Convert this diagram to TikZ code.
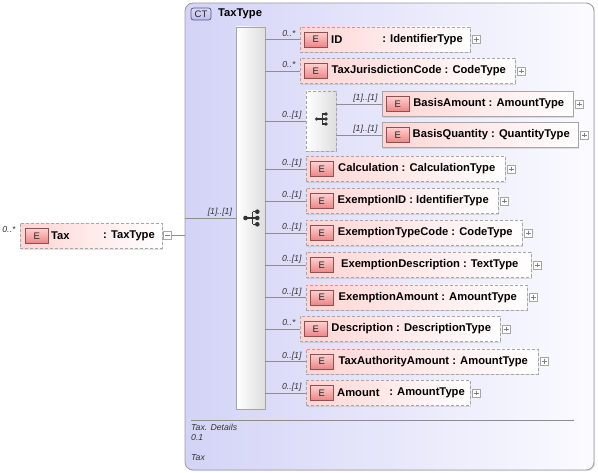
\documentclass[tikz,border=0pt]{standalone}
\usepackage{fontspec}
\setmainfont{Liberation Sans}
\usetikzlibrary{shadows}
\definecolor{ctleft}{HTML}{D3D3F7}
\definecolor{ctright}{HTML}{FBFBFF}
\definecolor{ctborder}{HTML}{9C9C9C}
\definecolor{ctbadgefill}{HTML}{BDBDF0}
\definecolor{ctbadgeborder}{HTML}{55558E}
\definecolor{elpink}{HTML}{FFD4D4}
\definecolor{elborder}{HTML}{A6A6A6}
\definecolor{ebadgetop}{HTML}{FFD0D0}
\definecolor{ebadgebot}{HTML}{EC8585}
\definecolor{ebadgeborder}{HTML}{8E5050}
\definecolor{linegray}{HTML}{8E8E8E}
\definecolor{cardtext}{HTML}{333333}
\definecolor{bargray}{HTML}{A4A4A4}
\tikzset{
  x=1pt, y=-1pt,
  ctbox/.style={draw=ctborder, line width=0.8pt, left color=ctleft, right color=ctright,
    rounded corners=8pt, inner sep=0pt,
    drop shadow={shadow xshift=1.2pt, shadow yshift=-1.2pt, opacity=0.2}},
  ctbadge/.style={draw=ctbadgeborder, line width=0.7pt, top color=ctbadgefill!55!white, bottom color=ctbadgefill,
    rounded corners=2.5pt, minimum width=20pt, minimum height=12pt, inner sep=0pt,
    font=\fontsize{9.5}{10}\selectfont, text=black!85},
  elem/.style={draw=elborder, line width=0.7pt, left color=elpink, right color=white,
    minimum height=25pt, inner sep=0pt,
    drop shadow={shadow xshift=1.2pt, shadow yshift=-1.2pt, opacity=0.22}},
  opt/.style={dash pattern=on 3pt off 2pt},
  badge/.style={draw=ebadgeborder, line width=0.6pt, top color=ebadgetop, bottom color=ebadgebot,
    minimum width=23pt, minimum height=15pt, inner sep=0pt,
    font=\fontsize{9.5}{10}\selectfont, text=black!85},
  eltext/.style={font=\fontsize{11.2}{12}\selectfont\bfseries, inner sep=0pt, text=black},
  card/.style={font=\fontsize{8.7}{9}\selectfont\itshape, text=cardtext, inner sep=0pt, anchor=base east},
  footer/.style={font=\fontsize{8.7}{9}\selectfont\itshape, text=black!80, inner sep=0pt, anchor=west},
  conn/.style={draw=linegray, line width=0.7pt},
  plusbox/.style={draw=elborder, fill=white, minimum width=8pt, minimum height=8pt, inner sep=0pt, line width=0.5pt},
  plusline/.style={draw=black!50, line width=0.5pt},
  seqbar/.style={draw=bargray, line width=0.7pt, left color=white, right color=black!13, inner sep=0pt,
    drop shadow={shadow xshift=1.2pt, shadow yshift=-1.2pt, opacity=0.22}},
  dotstyle/.style={fill=black!80, draw=none},
  iconline/.style={draw=black!80, line width=1.1pt}
}
% element box: #1 id, #2 left, #3 right, #4 y, #5 text, #6 extra style, #7 cardinality
\newcommand{\xelem}[7]{%
  \node[elem,#6, minimum width={(#3-(#2))*1pt}] (#1) at ({(#2+#3)/2},#4) {};
  \node[badge, anchor=west] (#1-b) at ({#2+4},#4) {E};
  \node[eltext] (#1-t) at ({(#2+30+#3-7.5)/2},#4) {#5};
  \xplus{#1}{#3}{#4}
  \node[card] (#1-c) at ([xshift=-4pt,yshift=3pt]#1.west) {#7};
}
\newcommand{\xplus}[3]{%
  \node[plusbox, anchor=west] (#1-p) at ({#2+2},#3) {};
  \draw[plusline] ([yshift=-2pt]#1-p.north) -- ([yshift=2pt]#1-p.south);
  \draw[plusline] ([xshift=2pt]#1-p.west) -- ([xshift=-2pt]#1-p.east);
}
% sequence icon: #1 prefix, #2 cx, #3 cy, #4 size
\newcommand{\xseqicon}[4]{%
  \coordinate (#1-l) at ({#2-5.5*#4},#3);
  \coordinate (#1-v) at ({#2+1.8*#4},#3);
  \coordinate (#1-vt) at ({#2+1.8*#4},{#3-6.3*#4});
  \coordinate (#1-vb) at ({#2+1.8*#4},{#3+6.3*#4});
  \coordinate (#1-d1) at ({#2+6.3*#4},{#3-6.3*#4});
  \coordinate (#1-d2) at ({#2+6.3*#4},#3);
  \coordinate (#1-d3) at ({#2+6.3*#4},{#3+6.3*#4});
  \draw[iconline] (#1-l) -- (#1-d2);
  \draw[iconline] (#1-vt) -- (#1-vb);
  \draw[iconline] (#1-vt) -- (#1-d1);
  \draw[iconline] (#1-vb) -- (#1-d3);
  \fill[dotstyle] (#1-l) circle ({2.3*#4});
  \fill[dotstyle] (#1-d1) circle ({2.3*#4});
  \fill[dotstyle] (#1-d2) circle ({2.3*#4});
  \fill[dotstyle] (#1-d3) circle ({2.3*#4});
}
\begin{document}
\begin{tikzpicture}
\useasboundingbox (0,0) rectangle (598,473);
\fill[white] (0,0) rectangle (598,473);

% complex type container
\node[ctbox, minimum width=409pt, minimum height=467pt] (ct) at (389.5,236.5) {};
\node[ctbadge] (ctb) at (201,14) {CT};
\node[eltext, anchor=west] (cttitle) at (218,14) {TaxType};
\draw[draw=black!45, line width=0.7pt] (191,420) -- (574,420);
\node[footer] (f1) at (191,427.5) {Tax. Details};
\node[footer] (f2) at (191,437.5) {0.1};
\node[footer] (f3) at (191,458) {Tax};

% main sequence
\node[seqbar, minimum width=29pt, minimum height=382pt] (seq) at (250.5,218) {};
\xseqicon{mi}{251}{218}{1}

% Tax element
\node[elem, opt, minimum width=142pt] (tax) at (91,236) {};
\node[badge, anchor=west] (tax-b) at (25,236) {E};
\node[eltext, anchor=west] (tax-n) at (51,236) {Tax};
\node[eltext, anchor=east] (tax-ty) at (155,236) {: TaxType};
\node[plusbox, anchor=west] (tax-m) at (163,235.5) {};
\draw[plusline] ([xshift=2pt]tax-m.west) -- ([xshift=-2pt]tax-m.east);
\node[card] (tax-c) at ([xshift=-4pt,yshift=3pt]tax.west) {0..*};
\draw[conn] (tax-m.east) -- (tax-m.east -| ct.west);
\draw[conn] (ct.west |- seq.west) -- (seq.west);
\node[card] (seq-c) at ([xshift=-3.5pt,yshift=3pt]seq.west) {[1]..[1]};

% ID element (special spacing)
\node[elem, opt, minimum width=170pt] (e1) at (385,39.5) {};
\node[badge, anchor=west] (e1-b) at (304,39.5) {E};
\node[eltext, anchor=west] (e1-n) at (331,39.5) {ID};
\node[eltext, anchor=east] (e1-ty) at (463,39.5) {: IdentifierType};
\xplus{e1}{470}{39.5}
\node[card] (e1-c) at ([xshift=-4pt,yshift=3pt]e1.west) {0..*};

\xelem{e2}{300}{515}{71}{TaxJurisdictionCode : CodeType}{opt}{0..*}

% inner sequence
\node[seqbar, opt, minimum width=30pt, minimum height=60pt] (iseq) at (321,121) {};
\xseqicon{ii}{321}{119}{0.8}
\node[card] (iseq-c) at ([xshift=-4pt,yshift=3pt]iseq.west) {0..[1]};
\xelem{ba}{382}{573}{104}{BasisAmount : AmountType}{}{[1]..[1]}
\xelem{bq}{382}{578}{135}{BasisQuantity : QuantityType}{}{[1]..[1]}
\draw[conn] (iseq.east |- ba.west) -- (ba.west);
\draw[conn] (iseq.east |- bq.west) -- (bq.west);

\xelem{calc}{306}{505}{169}{Calculation : CalculationType}{opt}{0..[1]}
\xelem{exid}{306}{498}{201}{ExemptionID : IdentifierType}{opt}{0..[1]}
\xelem{etc}{306}{522}{233}{ExemptionTypeCode : CodeType}{opt}{0..[1]}
\xelem{ed}{306}{531}{265}{ExemptionDescription : TextType}{opt}{0..[1]}
\xelem{ea}{306}{527}{297.5}{ExemptionAmount : AmountType}{opt}{0..[1]}
\xelem{desc}{300}{500}{329}{Description : DescriptionType}{opt}{0..*}
\xelem{taa}{306}{538}{361.5}{TaxAuthorityAmount : AmountType}{opt}{0..[1]}

% Amount element (special spacing)
\node[elem, opt, minimum width=164pt] (amt) at (388,393) {};
\node[badge, anchor=west] (amt-b) at (310,393) {E};
\node[eltext, anchor=west] (amt-n) at (337,393) {Amount};
\node[eltext, anchor=east] (amt-ty) at (465,393) {: AmountType};
\xplus{amt}{470}{393}
\node[card] (amt-c) at ([xshift=-4pt,yshift=3pt]amt.west) {0..[1]};

% connectors from main sequence
\foreach \n in {e1,e2,iseq,calc,exid,etc,ed,ea,desc,taa,amt}
  \draw[conn] (seq.east |- \n.west) -- (\n.west);
\end{tikzpicture}
\end{document}
